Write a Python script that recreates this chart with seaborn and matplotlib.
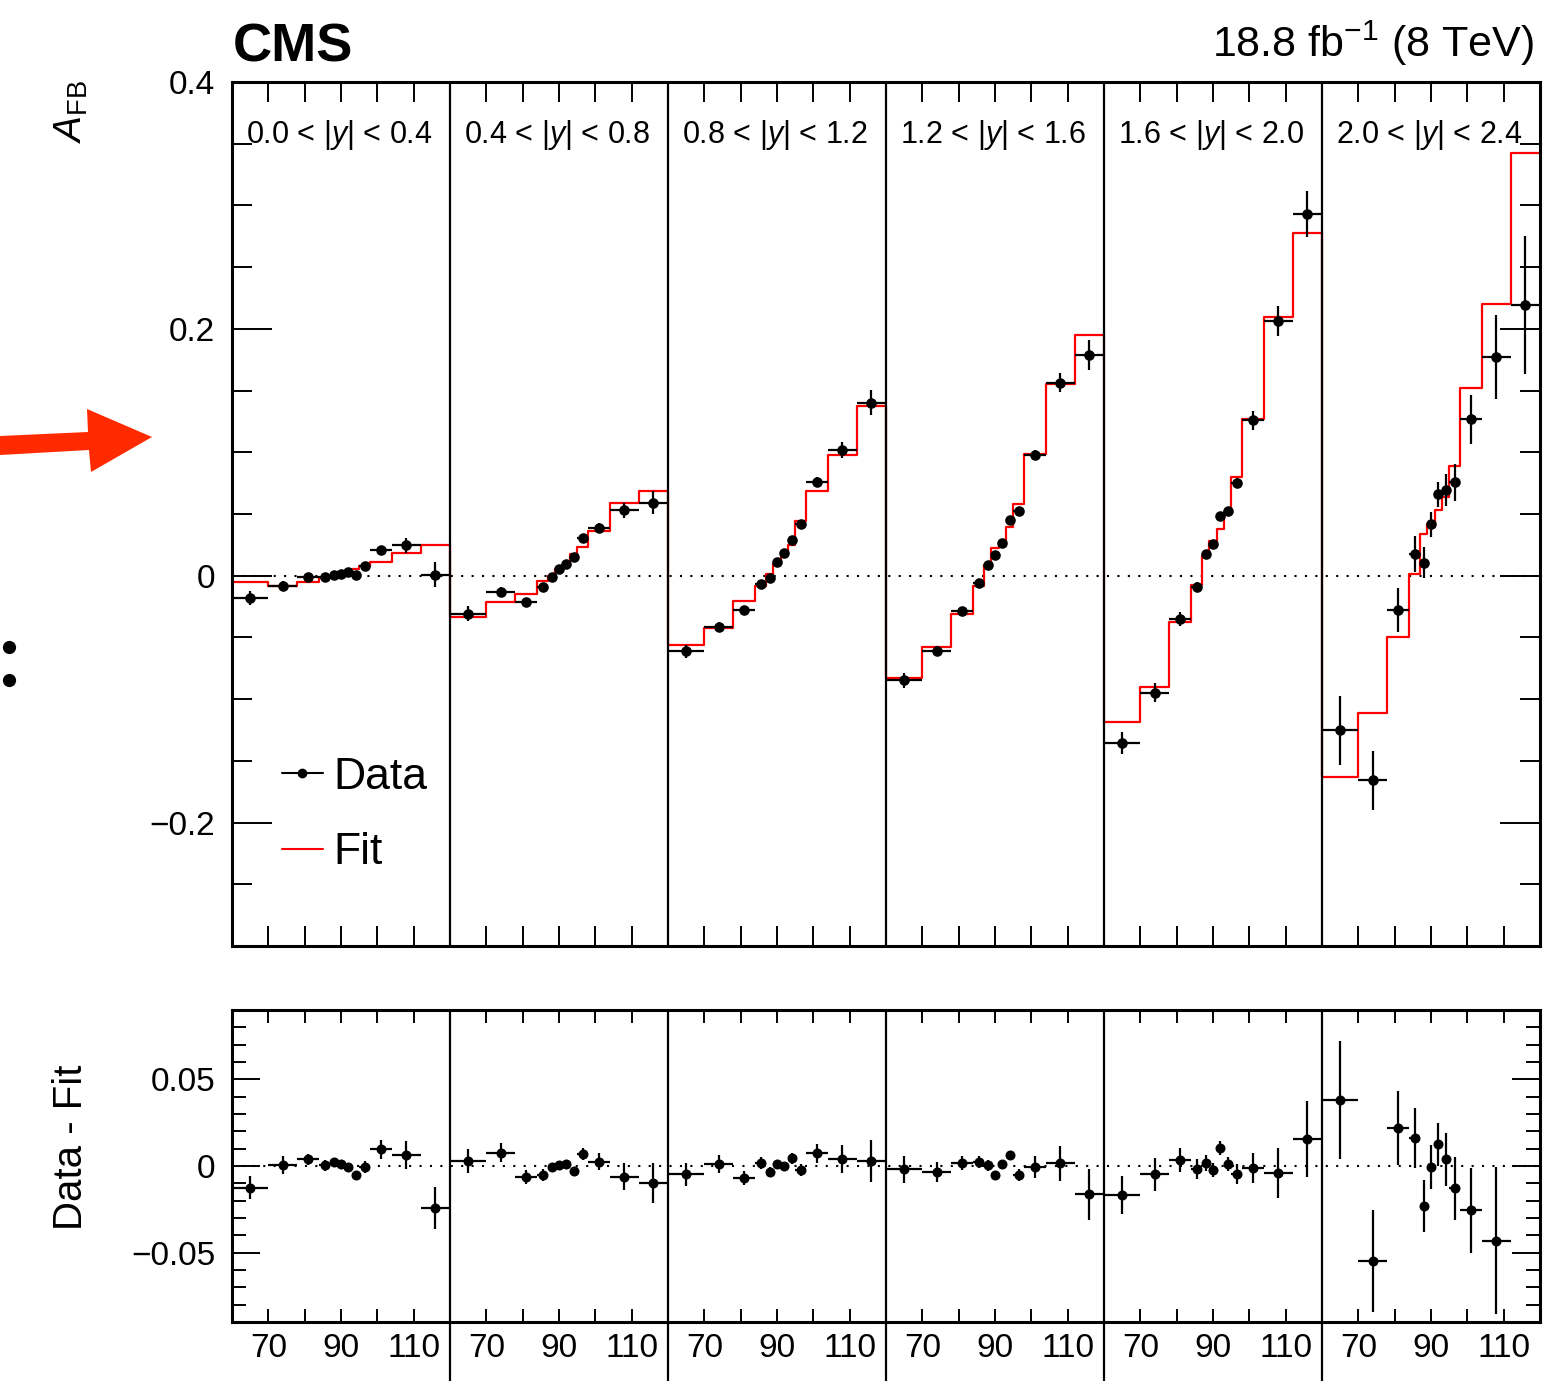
import numpy as np
import pandas as pd
import matplotlib
matplotlib.use("Agg")
import matplotlib.pyplot as plt
from matplotlib.lines import Line2D
from matplotlib.patches import Polygon
from matplotlib.ticker import MultipleLocator, FixedLocator, FuncFormatter
import seaborn as sns

# Data -------------------------------------------------------------
mass_edges = [60, 70, 78, 84, 87, 89, 91, 93, 95, 98, 104, 112, 120]
y_bins = ["0.0 < |$y$| < 0.4", "0.4 < |$y$| < 0.8", "0.8 < |$y$| < 1.2",
          "1.2 < |$y$| < 1.6", "1.6 < |$y$| < 2.0", "2.0 < |$y$| < 2.4"]
tick_labels = ["70", "", "90", "", "110"]

afb_data = [
    [-0.0181, -0.0081, -0.0014, -0.0014, 0.0008, 0.0014, 0.0027, 0.0003, 0.0076, 0.0205, 0.0246, 0.0008],
    [-0.0308, -0.0135, -0.0213, -0.0094, -0.0011, 0.0057, 0.0094, 0.0148, 0.0302, 0.0386, 0.0529, 0.0591],
    [-0.0613, -0.0416, -0.0275, -0.0068, -0.0019, 0.0108, 0.0184, 0.0291, 0.0421, 0.0759, 0.1020, 0.1403],
    [-0.0848, -0.0613, -0.0289, -0.0059, 0.0087, 0.0170, 0.0265, 0.0453, 0.0526, 0.0980, 0.1565, 0.1790],
    [-0.1356, -0.0948, -0.0349, -0.0089, 0.0172, 0.0256, 0.0480, 0.0526, 0.0750, 0.1259, 0.2065, 0.2931],
    [-0.1252, -0.1659, -0.0279, 0.0177, 0.0107, 0.0416, 0.0658, 0.0693, 0.0756, 0.1266, 0.1775, 0.2196],
]
afb_err = [
    [0.0054, 0.0040, 0.0020, 0.0015, 0.0012, 0.0012, 0.0012, 0.0015, 0.0020, 0.0030, 0.0060, 0.0100],
    [0.0060, 0.0040, 0.0030, 0.0025, 0.0020, 0.0020, 0.0020, 0.0020, 0.0030, 0.0040, 0.0060, 0.0095],
    [0.0054, 0.0040, 0.0030, 0.0025, 0.0020, 0.0020, 0.0020, 0.0025, 0.0030, 0.0040, 0.0067, 0.0100],
    [0.0063, 0.0040, 0.0030, 0.0025, 0.0020, 0.0020, 0.0020, 0.0030, 0.0030, 0.0040, 0.0080, 0.0120],
    [0.0090, 0.0075, 0.0055, 0.0040, 0.0030, 0.0030, 0.0030, 0.0030, 0.0040, 0.0075, 0.0123, 0.0183],
    [0.0280, 0.0237, 0.0176, 0.0146, 0.0123, 0.0102, 0.0102, 0.0130, 0.0147, 0.0198, 0.0340, 0.0559],
]
afb_fit = [
    [-0.0054, -0.0086, -0.0048, -0.0022, -0.0013, 0.0005, 0.0030, 0.0052, 0.0075, 0.0112, 0.0186, 0.0246],
    [-0.0335, -0.0212, -0.0150, -0.0043, -0.0005, 0.0053, 0.0084, 0.0177, 0.0236, 0.0364, 0.0592, 0.0685],
    [-0.0565, -0.0424, -0.0208, -0.0085, 0.0016, 0.0098, 0.0184, 0.0247, 0.0446, 0.0686, 0.0981, 0.1372],
    [-0.0829, -0.0578, -0.0308, -0.0084, 0.0083, 0.0222, 0.0255, 0.0391, 0.0580, 0.0984, 0.1550, 0.1953],
    [-0.1188, -0.0900, -0.0379, -0.0072, 0.0160, 0.0281, 0.0376, 0.0513, 0.0797, 0.1266, 0.2100, 0.2774],
    [-0.1632, -0.1112, -0.0497, 0.0013, 0.0338, 0.0422, 0.0533, 0.0635, 0.0885, 0.1522, 0.2205, 0.3425],
]
resid = [
    [-0.0125, 0.0006, 0.0039, 0.0004, 0.0023, 0.0010, -0.0006, -0.0054, -0.0006, 0.0096, 0.0062, -0.0241],
    [0.0029, 0.0077, -0.0062, -0.0054, -0.0006, 0.0004, 0.0010, -0.0029, 0.0067, 0.0025, -0.0062, -0.0100],
    [-0.0048, 0.0010, -0.0067, 0.0019, -0.0035, 0.0010, 0.0000, 0.0044, -0.0025, 0.0073, 0.0039, 0.0029],
    [-0.0019, -0.0035, 0.0019, 0.0025, 0.0004, -0.0052, 0.0010, 0.0062, -0.0054, -0.0004, 0.0015, -0.0164],
    [-0.0168, -0.0048, 0.0033, -0.0019, 0.0019, -0.0025, 0.0106, 0.0013, -0.0048, -0.0010, -0.0039, 0.0154],
    [0.0380, -0.0549, 0.0218, 0.0164, -0.0231, -0.0006, 0.0125, 0.0039, -0.0129, -0.0256, -0.0430, -0.1230],
]
resid_err = [
    [0.0067, 0.0050, 0.0033, 0.0030, 0.0020, 0.0020, 0.0020, 0.0020, 0.0035, 0.0053, 0.0081, 0.0120],
    [0.0070, 0.0053, 0.0039, 0.0035, 0.0025, 0.0025, 0.0025, 0.0025, 0.0035, 0.0050, 0.0077, 0.0116],
    [0.0067, 0.0053, 0.0040, 0.0035, 0.0030, 0.0025, 0.0025, 0.0030, 0.0035, 0.0053, 0.0082, 0.0122],
    [0.0077, 0.0058, 0.0040, 0.0035, 0.0030, 0.0025, 0.0025, 0.0025, 0.0035, 0.0063, 0.0100, 0.0145],
    [0.0110, 0.0094, 0.0070, 0.0058, 0.0046, 0.0040, 0.0040, 0.0040, 0.0058, 0.0087, 0.0145, 0.0220],
    [0.0342, 0.0296, 0.0215, 0.0173, 0.0150, 0.0125, 0.0125, 0.0154, 0.0183, 0.0246, 0.0424, 0.0600],
]

# Long table: one row per (rapidity bin, mass bin) ---------------------
edges = np.array(mass_edges, dtype=float)
centers = 0.5 * (edges[:-1] + edges[1:])
half = 0.5 * np.diff(edges)
width = edges[-1] - edges[0]

rows = []
for p in range(len(y_bins)):
    for i in range(len(centers)):
        rows.append({"panel": p,
                     "x": p * width + centers[i] - edges[0],
                     "half": half[i],
                     "afb": afb_data[p][i], "err": afb_err[p][i],
                     "fit": afb_fit[p][i],
                     "res": resid[p][i], "res_err": resid_err[p][i]})
df = pd.DataFrame(rows)

# Step line for the fit across all panels
step_x = np.concatenate([p * width + edges[:-1] - edges[0] for p in range(len(y_bins))] + [[len(y_bins) * width]])
step_y = np.concatenate([afb_fit[p] for p in range(len(y_bins))] + [[afb_fit[-1][-1]]])
steps = pd.DataFrame({"x": step_x, "y": step_y})

# Style ---------------------------------------------------------------
sns.set_style("ticks")
plt.rcParams["font.family"] = ["Liberation Sans", "DejaVu Sans"]
plt.rcParams["mathtext.fontset"] = "custom"
plt.rcParams["mathtext.rm"] = "Liberation Sans"
plt.rcParams["mathtext.it"] = "Liberation Sans:italic"
plt.rcParams["mathtext.bf"] = "Liberation Sans:bold"
plt.rcParams["axes.unicode_minus"] = True
for key in ("text.color", "axes.labelcolor", "axes.edgecolor", "xtick.color", "ytick.color"):
    plt.rcParams[key] = "black"

W, H = 1563, 1381
fig = plt.figure(figsize=(W / 100, H / 100), dpi=100)
left, right = 232 / W, 1540 / W
ax = fig.add_axes([left, 1 - 946 / H, right - left, (946 - 82) / H])
ax_r = fig.add_axes([left, 1 - 1322 / H, right - left, (1322 - 1010) / H])

n_pan = len(y_bins)
xmax = n_pan * width
tick_pos = [p * width + t for p in range(n_pan) for t in (10, 20, 30, 40, 50)]


def fmt(v, pos, nd):
    if abs(v) < 1e-9:
        return "0"
    return f"{v:.{nd}f}".replace("-", "\u2212")


dotted = (0, (1, 4))

# Main panel ----------------------------------------------------------
ax.axhline(0, color="black", lw=1.5, ls=dotted, zorder=1)
sns.lineplot(data=steps, x="x", y="y", drawstyle="steps-post", color="red",
             lw=1.6, estimator=None, sort=False, ax=ax, zorder=2)
ax.errorbar(df["x"], df["afb"], xerr=df["half"], yerr=df["err"], fmt="none",
            ecolor="black", elinewidth=1.6, capsize=0, zorder=3)
sns.scatterplot(data=df, x="x", y="afb", color="black", s=58, linewidth=0,
                ax=ax, legend=False, zorder=4)

ax.set_xlim(0, xmax)
ax.set_ylim(-0.3, 0.4)
ax.yaxis.set_major_locator(MultipleLocator(0.2))
ax.yaxis.set_minor_locator(MultipleLocator(0.05))
ax.yaxis.set_major_formatter(FuncFormatter(lambda v, p: fmt(v, p, 1)))
ax.xaxis.set_major_locator(FixedLocator(tick_pos))
ax.tick_params(axis="x", which="major", direction="in", length=14.5, width=1.4,
               top=True, bottom=True, labelbottom=False)
ax.tick_params(axis="y", which="major", direction="in", length=29, width=1.4,
               left=True, right=True, labelsize=24, pad=12)
ax.tick_params(axis="y", which="minor", direction="in", length=14.5, width=1.4,
               left=True, right=True)
ax.set_xlabel("")
ax.set_ylabel("")

for p, lab in enumerate(y_bins):
    ax.text(p * width + 3.85, 0.357, lab, fontsize=22, ha="left", va="center")
    if p > 0:
        ax.axvline(p * width, color="black", lw=1.6, zorder=5)

handles = [Line2D([], [], color="black", lw=1.5, marker="o", ms=6),
           Line2D([], [], color="red", lw=1.5)]
ax.legend(handles, ["Data", "Fit"], loc="upper left", bbox_to_anchor=(0.0382, 0.219),
          frameon=False, fontsize=32, borderpad=0, borderaxespad=0,
          handlelength=0.92, handletextpad=0.23, labelspacing=0.78)

# Ratio panel ---------------------------------------------------------
r_lim = 0.09
ax_r.axhline(0, color="black", lw=1.5, ls=dotted, zorder=1)
shown = df[df["res"].abs() < r_lim]
ax_r.errorbar(shown["x"], shown["res"], xerr=shown["half"], yerr=shown["res_err"], fmt="none",
              ecolor="black", elinewidth=1.6, capsize=0, zorder=3)
sns.scatterplot(data=shown, x="x", y="res", color="black", s=52, linewidth=0,
                ax=ax_r, legend=False, zorder=4)

ax_r.set_xlim(0, xmax)
ax_r.set_ylim(-r_lim, r_lim)
ax_r.yaxis.set_major_locator(MultipleLocator(0.05))
ax_r.yaxis.set_minor_locator(MultipleLocator(0.01))
ax_r.yaxis.set_major_formatter(FuncFormatter(lambda v, p: fmt(v, p, 2)))
ax_r.xaxis.set_major_locator(FixedLocator(tick_pos))
ax_r.set_xticklabels(tick_labels * n_pan)
ax_r.tick_params(axis="x", which="major", direction="in", length=9.5, width=1.4,
                 top=True, bottom=True, labelsize=24, pad=8)
ax_r.tick_params(axis="y", which="major", direction="in", length=20, width=1.4,
                 left=True, right=True, labelsize=24, pad=12)
ax_r.tick_params(axis="y", which="minor", direction="in", length=10, width=1.4,
                 left=True, right=True)
ax_r.set_xlabel("")
ax_r.set_ylabel("")
for p in range(1, n_pan):
    ax_r.axvline(p * width, ymin=-0.2, ymax=1, color="black", lw=1.6, clip_on=False, zorder=5)

for a in (ax, ax_r):
    for s in a.spines.values():
        s.set_linewidth(2.2)
        s.set_color("black")
        s.set_visible(True)

# Titles and labels ---------------------------------------------------
fig.text(233 / W, 1 - 61 / H, "CMS", fontsize=39, fontweight="bold", ha="left", va="baseline")
fig.text(1534 / W, 1 - 57 / H, r"18.8 fb$^{-1}$ (8 TeV)", fontsize=31, ha="right", va="baseline")
fig.text(71 / W, 1 - 80 / H, r"$A_{\mathrm{FB}}$", rotation=90, fontsize=28, ha="center", va="top")
fig.text(71 / W, 1 - 1147 / H, "Data - Fit", rotation=90, fontsize=29, ha="center", va="center")

# Annotation marks on the left edge (red arrow, two dots)
arrow_px = [(0, 436), (88, 432), (87, 409), (152, 437), (91, 472), (89, 450), (0, 455)]
fig.add_artist(Polygon([(x / W, 1 - y / H) for x, y in arrow_px], closed=True,
                       transform=fig.transFigure, facecolor="#ff2a00", edgecolor="none"))
fig.add_artist(Line2D([9 / W, 9 / W], [1 - 647 / H, 1 - 680 / H], transform=fig.transFigure,
                      ls="none", marker="o", ms=8.5, color="black"))

fig.savefig("out.png", dpi=100)
